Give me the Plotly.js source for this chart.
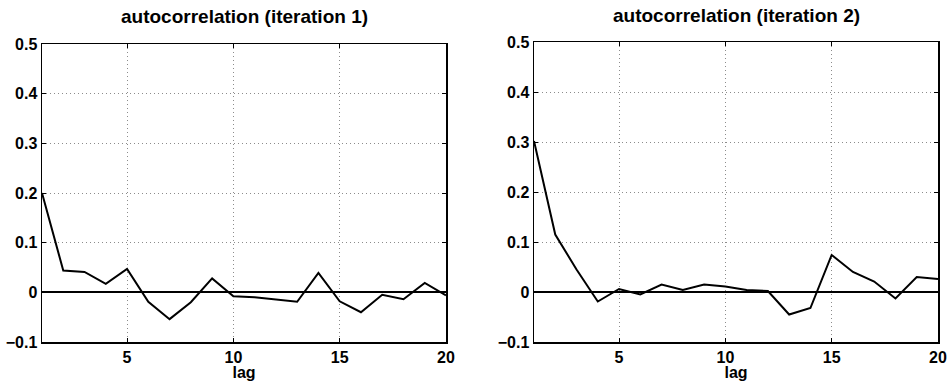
<!DOCTYPE html>
<html>
<head>
<meta charset="utf-8">
<script src="https://cdn.plot.ly/plotly-3.0.1.min.js"></script>
<style>html,body{margin:0;padding:0;background:#fff;}#chart{width:948px;height:381px;}</style>
</head>
<body>
<div id="chart"></div>
<script>
var lags = [1,2,3,4,5,6,7,8,9,10,11,12,13,14,15,16,17,18,19,20];
var acf1 = [0.200,0.044,0.041,0.017,0.047,-0.019,-0.054,-0.020,0.028,-0.008,-0.010,-0.015,-0.019,0.039,-0.018,-0.040,-0.005,-0.014,0.019,-0.006];
var acf2 = [0.302,0.115,0.045,-0.019,0.006,-0.005,0.015,0.004,0.015,0.011,0.004,0.002,-0.045,-0.032,0.074,0.040,0.021,-0.013,0.030,0.026];
var titles = ["autocorrelation (iteration 1)", "autocorrelation (iteration 2)"];
var xTicks = [5,10,15,20];
var yTicks = [-0.1,0,0.1,0.2,0.3,0.4,0.5];
var yTickText = ["\u22120.1","0","0.1","0.2","0.3","0.4","0.5"];

var FONT = "Liberation Sans, Arial, Helvetica, sans-serif";
var W = 948, H = 381;

var traces = [
  {x: lags, y: acf1, xaxis: 'x', yaxis: 'y', type: 'scatter', mode: 'lines',
   line: {color: '#000', width: 2}, hoverinfo: 'skip', showlegend: false},
  {x: lags, y: acf2, xaxis: 'x2', yaxis: 'y2', type: 'scatter', mode: 'lines',
   line: {color: '#000', width: 2}, hoverinfo: 'skip', showlegend: false}
];

function xax(dom, anchor) {
  return {
    domain: dom, anchor: anchor, range: [1, 20], tickvals: xTicks,
    ticks: 'inside', ticklen: 4, tickwidth: 1, tickcolor: '#000',
    showline: true, linecolor: '#000', linewidth: 1.5, mirror: 'ticks',
    showgrid: true, gridcolor: '#8c8c8c', griddash: '1px,3px', gridwidth: 1,
    zeroline: false,
    tickfont: {family: FONT, size: 16, color: '#000', weight: 'bold'},
    title: {text: '<b>lag</b>', font: {family: FONT, size: 16, color: '#000'}, standoff: 0}
  };
}
function yax(dom, anchor) {
  return {
    domain: dom, anchor: anchor, range: [-0.1, 0.5], tickvals: yTicks, ticktext: yTickText,
    ticks: 'inside', ticklen: 4, tickwidth: 1, tickcolor: '#000',
    showline: true, linecolor: '#000', linewidth: 1.5, mirror: 'ticks',
    showgrid: true, gridcolor: '#8c8c8c', griddash: '1px,3px', gridwidth: 1,
    zeroline: true, zerolinecolor: '#000', zerolinewidth: 2,
    tickfont: {family: FONT, size: 16, color: '#000', weight: 'bold'}
  };
}

var layout = {
  width: W, height: H,
  margin: {l: 0, r: 0, t: 0, b: 0},
  paper_bgcolor: '#fff', plot_bgcolor: '#fff',
  xaxis: xax([42/W, 446/W], 'y'),
  yaxis: yax([(H-342)/H, (H-44)/H], 'x'),
  xaxis2: xax([534/W, 938/W], 'y2'),
  yaxis2: yax([(H-342)/H, (H-42)/H], 'x2'),
  annotations: [
    {text: '<b>' + titles[0] + '</b>', xref: 'paper', yref: 'paper', x: 244/W, y: (H-17)/H,
     xanchor: 'center', yanchor: 'middle', showarrow: false,
     font: {family: FONT, size: 19, color: '#000'}},
    {text: '<b>' + titles[1] + '</b>', xref: 'paper', yref: 'paper', x: 736/W, y: (H-15)/H,
     xanchor: 'center', yanchor: 'middle', showarrow: false,
     font: {family: FONT, size: 19, color: '#000'}}
  ]
};

Plotly.newPlot('chart', traces, layout, {staticPlot: true, displayModeBar: false});
</script>
</body>
</html>
